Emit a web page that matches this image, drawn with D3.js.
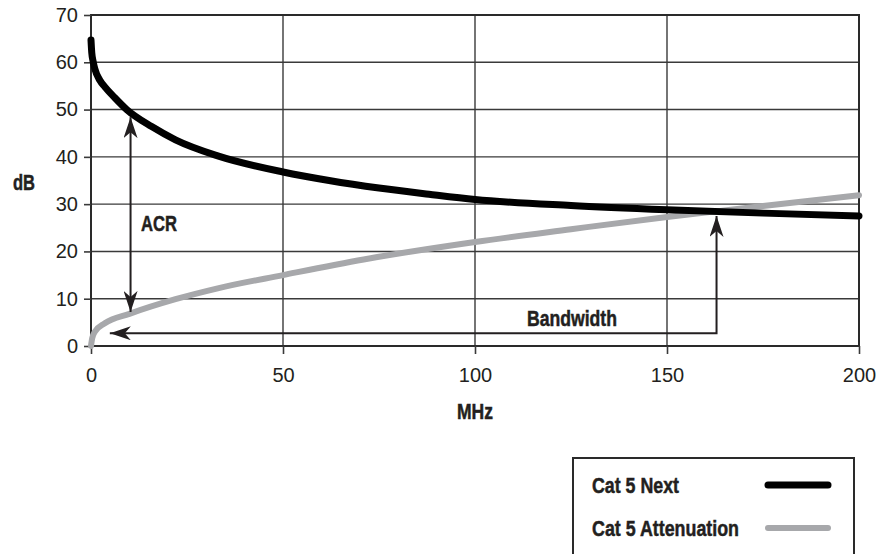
<!DOCTYPE html>
<html>
<head>
<meta charset="utf-8">
<script src="https://cdn.jsdelivr.net/npm/d3@7/dist/d3.min.js"></script>
<style>
body { margin: 0; background: #fff; }
svg { display: block; }
.tick text { font-family: "Liberation Sans", Arial, sans-serif; font-size: 20px; fill: #231f20; }
.lbl { font-family: "Liberation Sans", Arial, sans-serif; font-weight: bold; font-size: 22px; fill: #231f20; stroke: #231f20; stroke-width: 0.5px; }
</style>
</head>
<body>
<script>
// MHz / dB values
var nextFreq = [0, 0.2, 0.6, 1, 2.3, 3.6, 6.2, 9.3, 15.8, 22, 33, 50, 62, 75, 88, 100, 125, 150, 175, 200];
var nextDb   = [64.7, 62.0, 60, 58.6, 56.2, 54.8, 52.5, 50, 46.4, 43.6, 40.2, 36.8, 35.0, 33.4, 32.1, 31.0, 29.7, 28.8, 28.1, 27.5];
var attFreq  = [0, 0.3, 1, 3.6, 10, 22, 33, 50, 71, 100, 125, 150, 175, 200];
var attDb    = [0, 1.6, 3.0, 4.8, 6.8, 9.9, 12.2, 15.0, 18.3, 22.0, 24.7, 27.3, 29.6, 31.9];
var xTicks = [0, 50, 100, 150, 200];
var yTicks = [0, 10, 20, 30, 40, 50, 60, 70];
// annotation arrows, in data units
var acrArrow = [[10.3, 48.4], [10.3, 7.2]];
var bandArrow = [[162.9, 27.5], [162.9, 2.7], [4.9, 2.7]];
var seriesNames = ["Cat 5 Next", "Cat 5 Attenuation"];
var seriesColors = ["#000000", "#a7a8ab"];

var width = 879, height = 554;
var svg = d3.select("body").append("svg")
    .attr("width", width).attr("height", height);

var x = d3.scaleLinear().domain([0, 200]).range([91, 859]);
var y = d3.scaleLinear().domain([0, 70]).range([346, 15]);

var defs = svg.append("defs");
["head", "headS"].forEach(function(id, i) {
    defs.append("marker")
        .attr("id", id)
        .attr("markerUnits", "userSpaceOnUse")
        .attr("viewBox", "0 -7 21 14")
        .attr("refX", 21).attr("refY", 0)
        .attr("markerWidth", 21).attr("markerHeight", 14)
        .attr("orient", i ? "auto-start-reverse" : "auto")
        .append("path")
        .attr("d", "M21,0L0,-7L6,0L0,7Z")
        .attr("fill", "#231f20");
});

// grid
svg.append("g").selectAll("line").data(yTicks).enter().append("line")
    .attr("x1", x(0)).attr("x2", x(200))
    .attr("y1", d => y(d)).attr("y2", d => y(d))
    .attr("stroke", "#3a3a3a").attr("stroke-width", 1.4);
svg.append("g").selectAll("line").data(xTicks).enter().append("line")
    .attr("y1", y(0)).attr("y2", y(70))
    .attr("x1", d => x(d)).attr("x2", d => x(d))
    .attr("stroke", "#3a3a3a").attr("stroke-width", 1.4);
svg.append("rect")
    .attr("x", x(0)).attr("y", y(70))
    .attr("width", x(200) - x(0)).attr("height", y(0) - y(70))
    .attr("fill", "none").attr("stroke", "#2a2a2a").attr("stroke-width", 2);

// axes
var yAxis = svg.append("g").attr("transform", "translate(" + x(0) + ",0)")
    .call(d3.axisLeft(y).tickValues(yTicks).tickSize(7).tickPadding(6));
var xAxis = svg.append("g").attr("transform", "translate(0," + y(0) + ")")
    .call(d3.axisBottom(x).tickValues(xTicks).tickSize(8).tickPadding(14));
[xAxis, yAxis].forEach(function(a) {
    a.select(".domain").remove();
    a.selectAll(".tick line").attr("stroke", "#3a3a3a").attr("stroke-width", 1.6);
});

// curves
var line = d3.line().curve(d3.curveMonotoneX)
    .x(d => x(d[0])).y(d => y(d[1]));
svg.append("path")
    .datum(attFreq.map((f, i) => [f, attDb[i]]))
    .attr("d", line).attr("fill", "none")
    .attr("stroke", seriesColors[1]).attr("stroke-width", 6)
    .attr("stroke-linecap", "round");
svg.append("path")
    .datum(nextFreq.map((f, i) => [f, nextDb[i]]))
    .attr("d", line).attr("fill", "none")
    .attr("stroke", seriesColors[0]).attr("stroke-width", 7)
    .attr("stroke-linecap", "round").attr("stroke-linejoin", "round");

// arrows
var straight = d3.line().x(d => x(d[0])).y(d => y(d[1]));
[acrArrow, bandArrow].forEach(function(pts) {
    svg.append("path")
        .attr("d", straight(pts))
        .attr("fill", "none").attr("stroke", "#231f20").attr("stroke-width", 2)
        .attr("marker-start", "url(#headS)")
        .attr("marker-end", "url(#head)");
});

// labels (bold condensed look: squeeze with textLength)
function label(txt, px, py, w, anchor) {
    return svg.append("text").attr("class", "lbl")
        .attr("x", px).attr("y", py)
        .attr("text-anchor", anchor || "start")
        .attr("textLength", w).attr("lengthAdjust", "spacingAndGlyphs")
        .text(txt);
}
label("ACR", 141, 231, 36);
label("Bandwidth", 527, 326, 90);
label("dB", 24, 190, 22, "middle");
label("MHz", x(100), 419, 36, "middle");

// legend
var lg = svg.append("g");
lg.append("rect").attr("x", 573).attr("y", 458).attr("width", 281).attr("height", 100)
    .attr("fill", "#fff").attr("stroke", "#2a2a2a").attr("stroke-width", 2);
var legendW = [87, 147];
seriesNames.forEach(function(name, i) {
    var cy = 485 + i * 43;
    label(name, 592, cy + 8, legendW[i]);
    lg.append("line").attr("x1", 768).attr("x2", 828)
        .attr("y1", cy).attr("y2", cy)
        .attr("stroke", seriesColors[i])
        .attr("stroke-width", i === 0 ? 7 : 6)
        .attr("stroke-linecap", "round");
});
</script>
</body>
</html>
